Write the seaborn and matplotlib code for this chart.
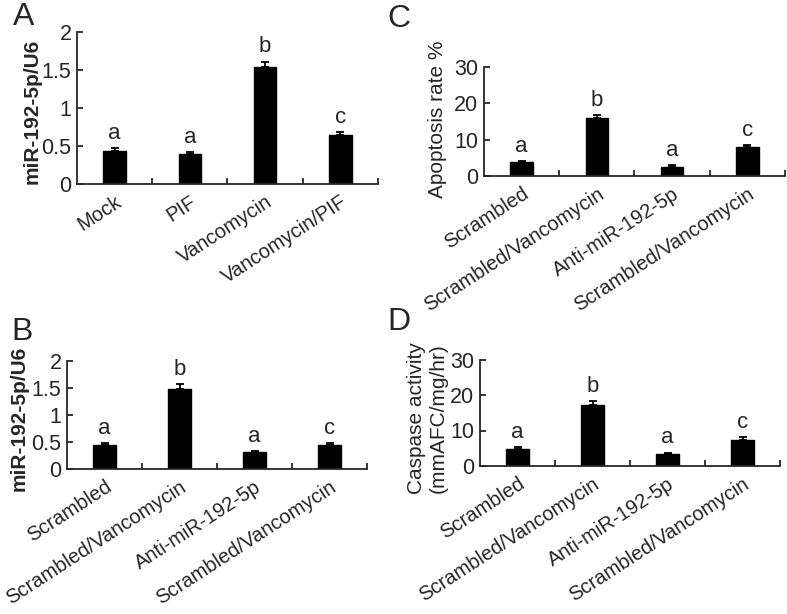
import numpy as np
import pandas as pd
import matplotlib
matplotlib.use("Agg")
import matplotlib.pyplot as plt
import seaborn as sns

# ---------------- data ----------------
a_groups = ["Mock", "PIF", "Vancomycin", "Vancomycin/PIF"]
a_values = [0.44, 0.39, 1.535, 0.65]
a_errors = [0.03, 0.035, 0.075, 0.03]
a_letters = ["a", "a", "b", "c"]

bcd_groups = ["Scrambled", "Scrambled/Vancomycin", "Anti-miR-192-5p", "Scrambled/Vancomycin"]

b_values = [0.44, 1.49, 0.31, 0.44]
b_errors = [0.035, 0.08, 0.02, 0.035]
b_letters = ["a", "b", "a", "c"]

c_values = [3.9, 15.9, 2.6, 7.9]
c_errors = [0.3, 0.9, 0.3, 0.6]
c_letters = ["a", "b", "a", "c"]

d_values = [4.7, 17.2, 3.4, 7.3]
d_errors = [0.6, 1.1, 0.4, 0.9]
d_letters = ["a", "b", "a", "c"]

# ---------------- style ----------------
sns.set_style("ticks")
plt.rcParams["font.family"] = ["Liberation Sans", "DejaVu Sans"]
plt.rcParams["axes.linewidth"] = 1.3

W, H = 787, 614
fig = plt.figure(figsize=(W / 100, H / 100), dpi=100)


def rect(l, r, t, b):
    return [l / W, 1 - b / H, (r - l) / W, (b - t) / H]


def panel(pos, groups, values, errors, letters, ylim, yticks, yticklabels,
          ylabel, ylabel_bold, ylabel_xy):
    ax = fig.add_axes(pos)
    idx = [str(i) for i in range(len(groups))]
    df = pd.DataFrame({"idx": idx, "value": values})
    sns.barplot(data=df, x="idx", y="value", order=idx, color="black",
                width=0.3, errorbar=None, saturation=1, edgecolor="black",
                linewidth=1, ax=ax)
    x = np.arange(len(groups))
    ax.errorbar(x, values, yerr=[np.zeros(len(values)), errors], fmt="none",
                ecolor="black", elinewidth=1.3, capsize=3, capthick=1.3)
    for xi, v, e, lt in zip(x, values, errors, letters):
        ax.annotate(lt, (xi, v + e), xytext=(0, 3), textcoords="offset points",
                    ha="center", va="bottom", fontsize=16)
    ax.set_xlim(-0.5, len(groups) - 0.5)
    ax.set_ylim(*ylim)
    ax.set_yticks(yticks)
    ax.set_yticklabels(yticklabels)
    ax.set_xticks(x)
    ax.set_xticklabels(groups, rotation=33, ha="right", rotation_mode="anchor")
    ax.set_xticks(np.arange(len(groups)) + 0.5, minor=True)
    ax.tick_params(axis="x", which="major", length=0, pad=6, labelsize=14.5)
    ax.tick_params(axis="x", which="minor", direction="in", length=4, width=1.3)
    ax.tick_params(axis="y", direction="in", length=4, width=1.3, pad=4,
                   labelsize=15.5)
    sns.despine(ax=ax)
    ax.set_xlabel("")
    ax.set_ylabel(ylabel, fontsize=15,
                  fontweight="bold" if ylabel_bold else "normal")
    ax.yaxis.label.set_verticalalignment("center")
    ax.yaxis.set_label_coords(*ylabel_xy)
    return ax


panel(rect(77, 378, 32, 184), a_groups, a_values, a_errors, a_letters,
      (0, 2), [0, 0.5, 1, 1.5, 2], ["0", "0.5", "1", "1.5", "2"],
      "miR-192-5p/U6", True, (-0.15, 0.48))

panel(rect(67, 367, 361, 469), bcd_groups, b_values, b_errors, b_letters,
      (0, 2), [0, 0.5, 1, 1.5, 2], ["0", "0.5", "1", "1.5", "2"],
      "miR-192-5p/U6", True, (-0.16, 0.47))

panel(rect(484, 785, 67, 176), bcd_groups, c_values, c_errors, c_letters,
      (0, 30), [0, 10, 20, 30], ["0", "10", "20", "30"],
      "Apoptosis rate %", False, (-0.153, 0.518))

panel(rect(480, 780, 359.5, 466), bcd_groups, d_values, d_errors, d_letters,
      (0, 30), [0, 10, 20, 30], ["0", "10", "20", "30"],
      "Caspase activity\n(mmAFC/mg/hr)", False, (-0.175, 0.45))

for letter, px, py in [("A", 13, 25), ("C", 387, 27), ("B", 11, 340), ("D", 387, 330)]:
    fig.text(px / W, 1 - py / H, letter, fontsize=23, ha="left", va="baseline")

fig.savefig("out.png", dpi=100)
